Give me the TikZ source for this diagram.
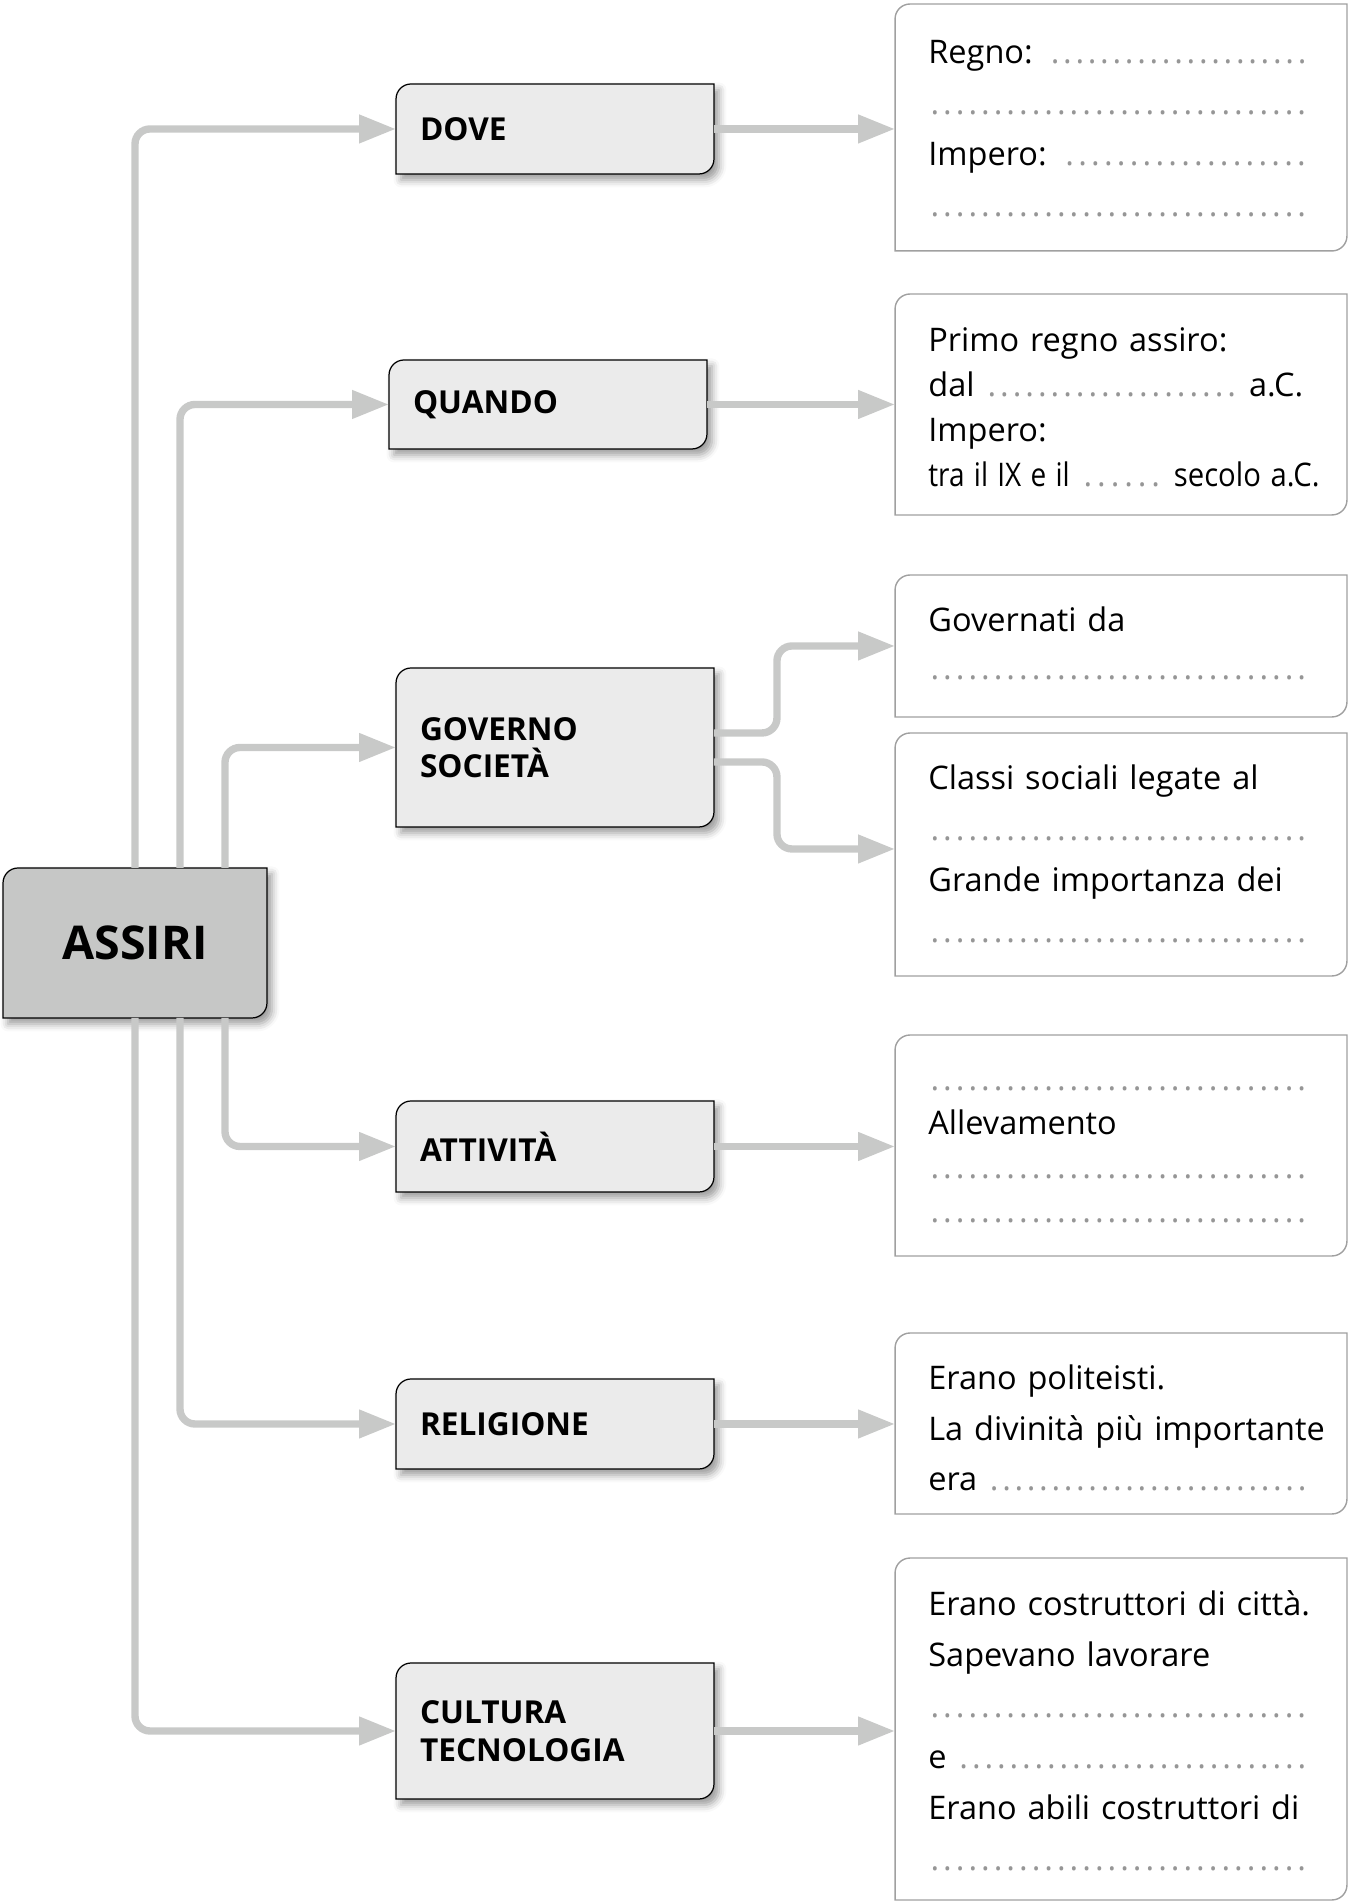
\documentclass[tikz,border=0pt]{standalone}
\usepackage{fontspec}
\setmainfont{Open Sans}
\usetikzlibrary{arrows.meta,backgrounds,shadows.blur}

\definecolor{linkgray}{RGB}{200,201,200}
\definecolor{rootfill}{RGB}{198,199,198}
\definecolor{catfill}{RGB}{235,235,235}
\definecolor{framegray}{RGB}{160,160,160}
\definecolor{dotgray}{RGB}{150,150,150}

% blanks to fill in
\newcommand\fillin{\xleaders\hbox to 7pt{\hss\textcolor{dotgray}{.}\hss}\hfill}
\newcommand\dotline{\mbox{}\fillin\kern0.7cm}

% frame with rounded top left and bottom right corners
\newcommand\cornerbox[2]{%
  \draw[#2] ([xshift=0.3cm]#1.north west) -- (#1.north east)
    -- ([yshift=0.3cm]#1.south east) arc[start angle=0,end angle=-90,radius=0.3cm]
    -- (#1.south west) -- ([yshift=-0.3cm]#1.north west)
    arc[start angle=180,end angle=90,radius=0.3cm] -- cycle;}

\tikzset{
  link/.style={draw=linkgray, line width=4.2pt, rounded corners=0.3cm,
    -{Triangle[length=0.74cm,width=0.54cm]}},
  root/.style={minimum width=5.28cm, minimum height=3cm, inner sep=0pt, outer sep=0pt,
    font=\fontsize{26.5}{30}\selectfont\bfseries},
  cat/.style={text width=5.4cm, inner xsep=0.48cm, inner ysep=0pt, outer sep=0pt,
    align=left, font=\fontsize{18}{21.3}\selectfont\bfseries},
  slot/.style={minimum width=9.04cm, inner sep=0pt, outer sep=0pt},
  slottext/.style={anchor=base west, text width=8.3cm, inner sep=0pt, align=left,
    font=\fontsize{18.5}{29}\selectfont},
  catframe/.style={draw=black, line width=0.7pt, fill=catfill,
    blur shadow={shadow xshift=0.1cm, shadow yshift=-0.12cm,
      shadow blur radius=0.15cm, shadow opacity=40}},
  rootframe/.style={catframe, fill=rootfill},
  slotframe/.style={draw=framegray, line width=0.8pt, fill=white}
}

\begin{document}
\begin{tikzpicture}[x=0.02cm, y=0.02cm]
\useasboundingbox (0,0) rectangle (1351,1902);

\node[root] (assiri) at (135,959) {ASSIRI};

% topics
\node[cat, minimum height=1.8cm]  (dove)      at (555,1773)   {DOVE};
\node[cat, minimum height=1.78cm] (quando)    at (548,1497.5) {QUANDO};
\node[cat, minimum height=3.18cm] (governo)   at (555,1154.5) {GOVERNO\\SOCIETÀ};
\node[cat, minimum height=1.82cm] (attivita)  at (555,755.5)  {ATTIVITÀ};
\node[cat, minimum height=1.8cm]  (religione) at (555,478)    {RELIGIONE};
\node[cat, minimum height=2.72cm] (cultura)   at (555,171)    {CULTURA\\TECNOLOGIA};

% answer boxes
\node[slot, minimum height=4.94cm] (r-dove)      at (1121,1774.5) {};
\node[slot, minimum height=4.42cm] (r-quando)    at (1121,1497.5) {};
\node[slot, minimum height=2.84cm] (r-soc1)      at (1121,1256)   {};
\node[slot, minimum height=4.86cm] (r-soc2)      at (1121,1047.5) {};
\node[slot, minimum height=4.42cm] (r-attivita)  at (1121,756.5)  {};
\node[slot, minimum height=3.62cm] (r-religione) at (1121,478.5)  {};
\node[slot, minimum height=6.84cm] (r-cultura)   at (1121,173)    {};

\begin{pgfonlayer}{background}
  \cornerbox{assiri}{rootframe}
  \foreach \n in {dove,quando,governo,attivita,religione,cultura}
    {\cornerbox{\n}{catframe}}
  \foreach \n in {r-dove,r-quando,r-soc1,r-soc2,r-attivita,r-religione,r-cultura}
    {\cornerbox{\n}{slotframe}}
\end{pgfonlayer}

% texts of the answer boxes
\node[slottext] (t-dove) at (928,1838) {Regno: \dotline\\\dotline\\Impero: \dotline\\\dotline};
\node[slottext, font=\fontsize{18.5}{25.5}\selectfont] (t-quando) at (928,1550)
  {Primo regno assiro:\\dal \fillin\ a.C.\kern0.8cm\\Impero:\\\scalebox{0.86}[1]{tra il IX e il}
   \hbox to 1.65cm{\fillin} \scalebox{0.9}[1]{secolo a.C.}};
\node[slottext, font=\fontsize{18.5}{27.2}\selectfont] (t-soc1) at (928,1270) {Governati da\\\dotline};
\node[slottext] (t-soc2) at (928,1112)
  {Classi sociali legate al\\\dotline\\Grande importanza dei\\\dotline};
\node[slottext, font=\fontsize{18.5}{25}\selectfont] (t-attivita) at (928,811)
  {\dotline\\Allevamento\\\dotline\\\dotline};
\node[slottext, font=\fontsize{18.5}{28.6}\selectfont] (t-religione) at (928,512)
  {Erano politeisti.\\La divinità più importante\\era \dotline};
\node[slottext] (t-cultura) at (928,286)
  {Erano costruttori di città.\\Sapevano lavorare\\\dotline\\e \dotline\\Erano abili costruttori di\\\dotline};

% connectors
\draw[link] (assiri.north) |- (dove.west);
\draw[link] ([xshift=0.9cm]assiri.north) |- (quando.west);
\draw[link] ([xshift=1.8cm]assiri.north) |- (governo.west);
\draw[link] ([xshift=1.8cm]assiri.south) |- (attivita.west);
\draw[link] ([xshift=0.9cm]assiri.south) |- (religione.west);
\draw[link] (assiri.south) |- (cultura.west);
\foreach \a/\b in {dove/r-dove,quando/r-quando,attivita/r-attivita,religione/r-religione,cultura/r-cultura}
  \draw[link] (\a) -- (\a -| \b.west);
\draw[link] ([yshift=0.29cm]governo.east) -- ++(63,0) |- (r-soc1.west);
\draw[link] ([yshift=-0.29cm]governo.east) -- ++(63,0) |- ([yshift=0.11cm]r-soc2.west);
\end{tikzpicture}
\end{document}
